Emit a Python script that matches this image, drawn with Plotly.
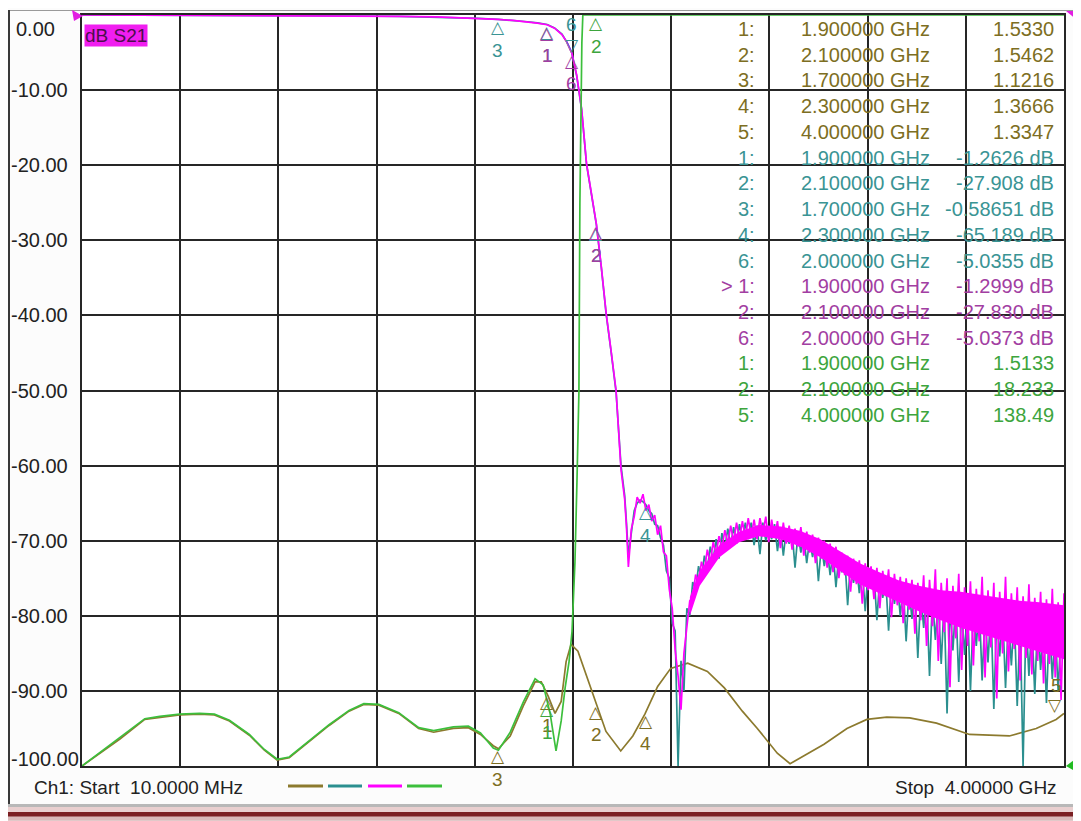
import numpy as np
import plotly.graph_objects as go

# sweep
f_start, f_stop = 0.01, 4.00  # GHz

# trace 1 (brown) as drawn on the grid
brown_f = [0.01, 0.083, 0.164, 0.265, 0.326, 0.407, 0.488, 0.548, 0.609, 0.690, 0.751, 0.803,
           0.852, 0.912, 1.014, 1.095, 1.155, 1.216, 1.297, 1.378, 1.439, 1.519, 1.580, 1.629,
           1.681, 1.702, 1.750, 1.803, 1.851, 1.876, 1.904, 1.932, 1.957, 1.977, 1.997, 2.025,
           2.078, 2.139, 2.199, 2.248, 2.297, 2.349, 2.402, 2.471, 2.551, 2.620, 2.693, 2.754,
           2.835, 2.887, 2.956, 3.025, 3.118, 3.199, 3.280, 3.373, 3.482, 3.616, 3.778, 3.887,
           3.968, 4.00]
brown_db = [-100.0, -98.3, -96.4, -93.8, -93.5, -93.2, -93.1, -93.2, -94.0, -95.9, -97.9, -99.2,
            -98.9, -97.3, -94.6, -92.7, -91.8, -91.9, -93.0, -95.0, -95.5, -95.0, -94.9, -95.8,
            -97.3, -97.7, -96.0, -92.0, -88.8, -88.8, -90.7, -93.0, -91.4, -86.1, -83.8, -84.7,
            -89.6, -95.4, -98.0, -96.0, -93.1, -89.4, -87.0, -86.3, -87.4, -89.6, -92.7, -95.0,
            -98.3, -99.7, -98.4, -97.1, -95.0, -93.8, -93.5, -93.6, -94.3, -95.8, -96.0, -95.0,
            -93.8, -93.0]

# S21 passband / skirt (teal and magenta)
skirt_f = [0.01, 0.30, 0.60, 0.90, 1.10, 1.30, 1.45, 1.55, 1.62, 1.70, 1.76, 1.82, 1.86, 1.90,
           1.93, 1.96, 1.98, 2.00, 2.02, 2.04, 2.06, 2.08, 2.10, 2.12, 2.14, 2.16, 2.18, 2.20,
           2.215, 2.222]
teal_db = [0.0, -0.02, -0.05, -0.09, -0.13, -0.19, -0.27, -0.37, -0.46, -0.59, -0.71, -0.90,
           -1.05, -1.26, -1.72, -2.55, -3.6, -5.04, -8.1, -12.6, -19.9, -24.0, -27.91, -33.6,
           -39.9, -44.9, -50.2, -60.0, -64.0, -67.5]
mag_db = [0.0, -0.02, -0.05, -0.08, -0.12, -0.18, -0.26, -0.36, -0.45, -0.59, -0.72, -0.92,
          -1.08, -1.30, -1.75, -2.6, -3.6, -5.04, -8.0, -12.5, -19.8, -23.8, -27.83, -33.5,
          -39.8, -44.8, -50.0, -60.5, -64.5, -68.0]

# stopband points, swept 2.23 .. 4.00 GHz
stop_start = 2.23
mag_stop = [-73.5, -68.5, -66.8, -64.2, -65.0, -63.8, -66.0, -65.2, -67.4, -66.6,
            -69.2, -68.0, -71.5, -72.0, -76.5, -79.0, -84.5, -88.0, -92.5, -85.0,
            -81.5, -78.0, -77.5, -74.5, -75.8, -72.8, -74.0, -71.2, -73.0, -70.2,
            -71.8, -69.4, -71.0, -68.6, -70.4, -68.0, -70.2, -67.6, -69.8, -67.4,
            -69.6, -67.0, -69.4, -67.2, -69.8, -67.0, -69.0, -66.8, -70.2, -67.2,
            -69.6, -67.4, -71.0, -67.6, -70.4, -68.0, -71.2, -68.4, -70.8, -68.2,
            -72.0, -68.8, -71.6, -69.2, -73.0, -69.6, -72.4, -70.0, -73.6, -70.4,
            -74.2, -70.8, -75.0, -71.6, -74.6, -72.0, -76.8, -72.4, -75.8, -72.6,
            -78.4, -73.0, -76.6, -73.4, -77.8, -73.6, -79.0, -74.0, -77.4, -73.8,
            -80.2, -74.4, -78.6, -74.8, -81.0, -75.0, -79.2, -75.2, -82.4, -75.6,
            -80.6, -74.6, -84.0, -75.2, -81.4, -73.8, -86.0, -75.6, -82.2, -75.0,
            -89.5, -76.0, -83.0, -74.4, -87.2, -76.2, -84.0, -75.4, -86.6, -76.4,
            -83.4, -74.8, -88.2, -76.6, -84.2, -75.6, -91.0, -76.8, -85.0, -74.8,
            -87.4, -77.0, -84.4, -76.2, -88.6, -77.4, -85.6, -75.8, -87.8, -77.6,
            -86.0, -76.8, -89.0, -77.8, -86.4, -76.4, -88.2, -78.2, -91.2, -77.0]
teal_stop = [-72.0, -69.0, -66.0, -65.0, -64.6, -64.8, -65.2, -66.0, -66.4, -67.8,
             -68.0, -69.6, -70.6, -74.0, -75.0, -81.0, -82.0, -100.0, -86.0, -90.0,
             -79.0, -80.0, -75.5, -76.5, -73.4, -75.0, -72.0, -73.8, -70.8, -72.6,
             -69.8, -72.4, -69.0, -71.0, -68.4, -70.6, -68.2, -70.4, -67.8, -70.0,
             -67.6, -69.8, -67.6, -70.6, -68.0, -71.8, -67.6, -70.0, -68.0, -69.8,
             -67.8, -71.4, -68.2, -72.0, -68.6, -70.4, -68.8, -73.6, -69.0, -71.6,
             -69.4, -73.0, -69.8, -72.2, -70.0, -75.4, -70.6, -73.4, -71.0, -74.6,
             -71.4, -76.2, -71.8, -74.2, -72.2, -78.6, -72.8, -75.6, -73.2, -77.0,
             -73.6, -79.4, -74.0, -76.4, -74.2, -80.6, -74.8, -77.6, -75.0, -82.0,
             -75.2, -78.4, -75.6, -80.0, -76.0, -83.4, -76.4, -80.4, -76.6, -85.6,
             -77.0, -81.6, -77.2, -88.0, -77.6, -83.2, -78.0, -86.4, -78.2, -93.0,
             -78.6, -84.6, -78.0, -88.8, -79.0, -85.2, -78.6, -90.0, -79.2, -84.0,
             -78.4, -88.6, -79.6, -86.2, -79.0, -92.4, -80.0, -85.4, -79.4, -89.6,
             -80.2, -86.6, -79.8, -92.0, -80.6, -100.0, -80.0, -88.0, -81.0, -90.4,
             -80.4, -87.2, -81.2, -91.6, -80.8, -88.4, -81.6, -90.0, -82.0, -80.0]

# dense core of the magenta noise band
band_f = [2.48, 2.52, 2.60, 2.68, 2.76, 2.85, 2.93, 3.01, 3.09, 3.17, 3.25, 3.33, 3.41, 3.50,
          3.58, 3.66, 3.74, 3.82, 3.90, 4.00]
core_hi = [-77.5, -74.0, -70.6, -68.8, -67.9, -68.1, -68.7, -69.8, -71.4, -73.0, -74.2,
           -75.3, -76.0, -76.6, -76.8, -77.2, -77.6, -78.0, -78.2, -78.6]
core_lo = [-80.0, -76.0, -72.2, -70.2, -69.4, -69.8, -70.8, -72.2, -74.0, -75.8, -77.0,
           -78.2, -79.4, -80.6, -81.6, -82.4, -83.2, -84.0, -84.8, -85.8]

# trace 4 (green), pinned to the top edge above 2.045 GHz
green_f = [0.01, 0.083, 0.164, 0.265, 0.326, 0.407, 0.488, 0.548, 0.609, 0.690, 0.751, 0.803,
           0.852, 0.912, 1.014, 1.095, 1.155, 1.216, 1.297, 1.378, 1.439, 1.519, 1.580, 1.629,
           1.681, 1.702, 1.750, 1.803, 1.851, 1.884, 1.912, 1.936, 1.957, 1.973, 1.989, 2.001,
           2.013, 2.021, 2.029, 2.033, 2.037, 2.041, 2.045, 4.00]
green_db = [-100.0, -98.2, -96.2, -93.7, -93.4, -93.1, -93.0, -93.1, -93.9, -95.8, -97.8, -99.1,
            -98.8, -97.2, -94.5, -92.6, -91.7, -91.8, -92.9, -94.9, -95.3, -94.8, -94.7, -95.6,
            -97.6, -97.9, -95.5, -91.5, -88.4, -89.2, -93.0, -98.0, -94.0, -89.6, -86.1, -82.1,
            -72.8, -62.2, -50.2, -25.0, -11.7, -3.7, 0.0, 0.0]

# markers: id, frequency, where the flag sits (below / above / off)
brown_mk_id = ["1", "2", "3", "4", "5"]
brown_mk_f = [1.9, 2.1, 1.7, 2.3, 4.0]
brown_mk_side = ["below", "below", "below", "below", "above"]
teal_mk_id = ["1", "2", "3", "4", "6"]
teal_mk_f = [1.9, 2.1, 1.7, 2.3, 2.0]
teal_mk_side = ["below", "below", "below", "below", "above"]
mag_mk_id = ["1", "2", "6"]
mag_mk_f = [1.9, 2.1, 2.0]
mag_mk_side = ["below", "below", "below"]
green_mk_id = ["1", "2", "5"]
green_mk_f = [1.9, 2.1, 4.0]
green_mk_side = ["below", "below", "off"]

# marker readout table
table_id = ["1:", "2:", "3:", "4:", "5:", "1:", "2:", "3:", "4:", "6:", "> 1:", "2:", "6:", "1:", "2:", "5:"]
table_freq = ["1.900000 GHz", "2.100000 GHz", "1.700000 GHz", "2.300000 GHz", "4.000000 GHz",
              "1.900000 GHz", "2.100000 GHz", "1.700000 GHz", "2.300000 GHz", "2.000000 GHz",
              "1.900000 GHz", "2.100000 GHz", "2.000000 GHz",
              "1.900000 GHz", "2.100000 GHz", "4.000000 GHz"]
table_val = ["1.5330", "1.5462", "1.1216", "1.3666", "1.3347",
             "-1.2626 dB", "-27.908 dB", "-0.58651 dB", "-65.189 dB", "-5.0355 dB",
             "-1.2999 dB", "-27.830 dB", "-5.0373 dB",
             "1.5133", "18.233", "138.49"]
table_trace = [0] * 5 + [1] * 5 + [2] * 3 + [3] * 3

y_ticks = [0, -10, -20, -30, -40, -50, -60, -70, -80, -90, -100]

trace_col = ["#8c7a2e", "#2b8f8f", "#ff00ff", "#3cbf3c"]
text_col = ["#7d6e22", "#3a9494", "#a23ea2", "#3da53d"]
FONT = "Liberation Sans"

stop_f = np.linspace(stop_start, f_stop, len(mag_stop))
teal_x = list(skirt_f) + list(stop_f)
teal_y = teal_db + teal_stop
mag_x = list(skirt_f) + list(stop_f)
mag_y = mag_db + mag_stop

fig = go.Figure()
series = [(brown_f, brown_db), (teal_x, teal_y), (mag_x, mag_y), (green_f, green_db)]
for k, (xs, ys) in enumerate(series):
    if k == 2:
        fig.add_trace(go.Scatter(x=band_f + band_f[::-1], y=core_hi + core_lo[::-1],
                                 fill="toself", fillcolor=trace_col[2], line=dict(width=0),
                                 mode="lines", hoverinfo="skip"))
    fig.add_trace(go.Scatter(x=xs, y=ys, mode="lines",
                             line=dict(color=trace_col[k], width=1.7), hoverinfo="skip"))

# the page body puts the figure 8 px in from the window corner
OFF = 8


def px(x, y):
    # window pixel -> paper coords
    return (x - 82) / 982, (766 - y) / 753


ann = []
# marker triangles with numbers
mk_sets = [(brown_mk_id, brown_mk_f, brown_mk_side, 0), (teal_mk_id, teal_mk_f, teal_mk_side, 1),
           (mag_mk_id, mag_mk_f, mag_mk_side, 2), (green_mk_id, green_mk_f, green_mk_side, 3)]
for ids, fs, sides, k in mk_sets:
    xs, ys = series[k]
    for mid, mf, side in zip(ids, fs, sides):
        if side == "off":
            continue
        yv = float(np.interp(mf, xs, ys))
        if side == "below":
            sym, s1, s2 = "△", -8, -31
        else:
            sym, s1, s2 = "▽", 8, 28
        xa = "right" if mf >= f_stop else "center"
        ann.append(dict(x=mf, y=yv, xref="x", yref="y", text=sym, showarrow=False,
                        yshift=s1, yanchor="middle", xanchor=xa,
                        font=dict(family="DejaVu Sans", size=17, color=text_col[k])))
        ann.append(dict(x=mf, y=yv, xref="x", yref="y", text=mid, showarrow=False,
                        yshift=s2, yanchor="middle", xanchor=xa,
                        font=dict(family=FONT, size=19, color=text_col[k])))

# y scale labels
for v in y_ticks:
    ys = 0
    if v == 0:
        ys = -14
    elif v == -100:
        ys = 7
    xa = px(14 if v == 0 else 9, 0)[0]
    ann.append(dict(x=xa, y=v, xref="paper", yref="y", text=f"{v:.2f}", showarrow=False,
                    xanchor="left", yanchor="middle", yshift=ys,
                    font=dict(family=FONT, size=20, color="#222")))

# readout table
for r in range(len(table_id)):
    yy = px(0, 27 + 25.8 * r)[1]
    c = text_col[table_trace[r]]
    f = dict(family=FONT, size=20, color=c)
    ann.append(dict(x=px(757, 0)[0], y=yy, xref="paper", yref="paper", text=table_id[r],
                    xanchor="right", yanchor="middle", showarrow=False, font=f))
    ann.append(dict(x=px(799, 0)[0], y=yy, xref="paper", yref="paper", text=table_freq[r],
                    xanchor="left", yanchor="middle", showarrow=False, font=f))
    ann.append(dict(x=px(1056, 0)[0], y=yy, xref="paper", yref="paper", text=table_val[r],
                    xanchor="right", yanchor="middle", showarrow=False, font=f))

# trace label box
ann.append(dict(x=px(84, 0)[0], y=px(0, 34)[1], xref="paper", yref="paper", text="dB S21",
                xanchor="left", yanchor="middle", showarrow=False, bgcolor="#f01ef0", borderpad=0,
                font=dict(family=FONT, size=19, color="#4c0f4c")))
# footer
ann.append(dict(x=px(32, 0)[0], y=px(0, 788)[1], xref="paper", yref="paper",
                text="Ch1: Start\u00a0\u00a010.0000 MHz", xanchor="left", yanchor="middle",
                showarrow=False, font=dict(family=FONT, size=19, color="#222")))
ann.append(dict(x=px(1059, 0)[0], y=px(0, 788)[1], xref="paper", yref="paper",
                text="Stop\u00a0\u00a04.00000 GHz", xanchor="right", yanchor="middle",
                showarrow=False, font=dict(family=FONT, size=19, color="#222")))

shapes = []
# trace colour keys in the footer
for k, (a, b) in enumerate([(288, 323), (328, 362), (368, 402), (407, 442)]):
    x0, y0 = px(a, 786)
    x1, _ = px(b, 786)
    shapes.append(dict(type="line", xref="paper", yref="paper", x0=x0, x1=x1, y0=y0, y1=y0,
                       line=dict(color=trace_col[k], width=3)))


def rect(x0, y0, x1, y1, col):
    a, b = px(x0, y0)
    c, d = px(x1, y1)
    shapes.append(dict(type="rect", xref="paper", yref="paper", x0=a, x1=c, y0=b, y1=d,
                       fillcolor=col, line=dict(width=0), layer="below"))


# window frame bits
rect(8, 8, 1081, 9, "#9a9a9a")
rect(8, 8, 10, 806, "#3a3a3a")
rect(1075, 8, 1081, 821, "#d8c2c2")
rect(1074, 8, 1076, 806, "#8a8a8a")
rect(8, 804, 1081, 807, "#b8b8b8")
rect(8, 807, 1081, 812, "#e9cfcf")
rect(8, 812, 1081, 817, "#7b1f22")
rect(8, 817, 1081, 821, "#d9b8b8")

# reference arrows
for pts, col in [([(72, 8), (83, 14), (74, 19)], "#e21ee2"),
                 ([(1078, 757), (1066, 766), (1078, 773)], "#22bb22"),
                 ([(1066, 9), (1078, 9), (1078, 19)], "#e21ee2")]:
    p = [px(*q) for q in pts]
    path = "M {} {} L {} {} L {} {} Z".format(p[0][0], p[0][1], p[1][0], p[1][1], p[2][0], p[2][1])
    shapes.append(dict(type="path", xref="paper", yref="paper", path=path,
                       fillcolor=col, line=dict(width=0)))

axis = dict(showgrid=True, gridcolor="#262626", gridwidth=2, showline=True, linecolor="#262626",
            linewidth=2, mirror=True, showticklabels=False, zeroline=False, ticks="",
            layer="below traces")
fig.update_xaxes(range=[f_start, f_stop], tick0=f_start, dtick=(f_stop - f_start) / 10, **axis)
fig.update_yaxes(range=[-100, 0], tick0=0, dtick=10, **axis)

fig.update_layout(width=1081 - OFF, height=821 - OFF,
                  margin=dict(l=82 - OFF, r=17, t=13 - OFF, b=55),
                  paper_bgcolor="#fcfcfc", plot_bgcolor="white", showlegend=False,
                  annotations=ann, shapes=shapes)

fig.write_html("out.html")
